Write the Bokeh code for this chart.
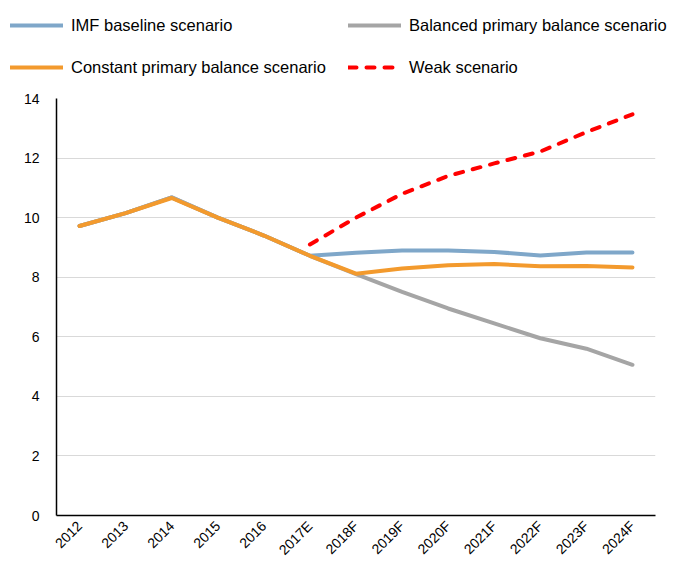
import math
from bokeh.plotting import figure
from bokeh.layouts import column, row
from bokeh.models import Legend, LegendItem, Range1d, FixedTicker
from bokeh.embed import file_html
from bokeh.resources import INLINE

years = ["2012", "2013", "2014", "2015", "2016", "2017E", "2018F", "2019F",
         "2020F", "2021F", "2022F", "2023F", "2024F"]
imf_baseline = [9.72, 10.15, 10.68, 10.0, 9.4, 8.72, 8.82, 8.9, 8.9, 8.85, 8.73, 8.83, 8.83]
balanced_pb = [9.72, 10.15, 10.68, 10.0, 9.4, 8.72, 8.1, 7.51, 6.95, 6.45, 5.95, 5.6, 5.06]
constant_pb = [9.72, 10.15, 10.66, 10.0, 9.4, 8.72, 8.12, 8.29, 8.4, 8.44, 8.37, 8.38, 8.33]
weak_years = ["2017E", "2018F", "2019F", "2020F", "2021F", "2022F", "2023F", "2024F"]
weak = [9.1, 10.0, 10.8, 11.4, 11.82, 12.22, 12.87, 13.47]
y_ticks = [0, 2, 4, 6, 8, 10, 12, 14]
series_names = ["IMF baseline scenario", "Balanced primary balance scenario",
                "Constant primary balance scenario", "Weak scenario"]

FONT = "Liberation Sans"
styles = [
    dict(line_color="#7FA7C9", line_width=4, line_cap="round"),
    dict(line_color="#A5A5A5", line_width=4, line_cap="round"),
    dict(line_color="#F39A2D", line_width=4, line_cap="round"),
    dict(line_color="#FF0000", line_width=4, line_dash="8 10", line_cap="round"),
]

# ---- main chart ----
p = figure(width=677, height=476, x_range=years, output_backend="svg",
           toolbar_location=None, min_border_left=56, min_border_right=22,
           min_border_top=8, min_border_bottom=50)
p.y_range = Range1d(0, 14)
p.outline_line_color = None

r_blue = p.line(years, imf_baseline, **styles[0])
r_gray = p.line(years, balanced_pb, **styles[1])
r_orange = p.line(years, constant_pb, **styles[2])
r_weak = p.line(weak_years, weak, **styles[3])

p.yaxis.ticker = FixedTicker(ticks=y_ticks)
p.xgrid.grid_line_color = None
p.ygrid.grid_line_color = "#D9D9D9"
p.ygrid.grid_line_width = 1

for ax in (p.xaxis[0], p.yaxis[0]):
    ax.axis_line_color = "black"
    ax.axis_line_width = 1.5
    ax.major_tick_line_color = None
    ax.minor_tick_line_color = None
    ax.major_label_text_font = FONT
    ax.major_label_text_font_size = "14px"
    ax.major_label_text_color = "black"
p.yaxis.major_label_standoff = 11
p.xaxis.major_label_orientation = math.pi / 4
p.xaxis.major_label_standoff = 2

# ---- legend strip (same series, drawn outside its visible range) ----
lg = figure(width=677, height=90, output_backend="svg", toolbar_location=None,
            x_axis_location=None, y_axis_location=None, x_range=years,
            y_range=Range1d(100, 101),
            min_border=0, min_border_left=0, min_border_right=0,
            min_border_top=0, min_border_bottom=0, outline_line_color=None)
lg.grid.visible = False
l_series = [(years, imf_baseline), (years, balanced_pb), (years, constant_pb), (weak_years, weak)]
dummies = [lg.line(xs, ys, **s) for (xs, ys), s in zip(l_series, styles)]

order = [0, 2, 1, 3]  # filled column by column
legend = Legend(items=[LegendItem(label=series_names[i], renderers=[dummies[i]]) for i in order],
                ncols=2, location=(10, 13))
legend.border_line_color = None
legend.background_fill_alpha = 0
legend.padding = 5
legend.margin = 0
legend.spacing = 22
legend.glyph_width = 53
legend.glyph_height = 20
legend.label_height = 20
legend.label_standoff = 8
legend.label_text_font = FONT
legend.label_text_font_size = "16.5px"
legend.label_text_color = "black"
legend.click_policy = "none"
lg.add_layout(legend, "center")

layout = column(row(lg, spacing=0), p, spacing=0)
open("out.html", "w").write(file_html(layout, INLINE))
